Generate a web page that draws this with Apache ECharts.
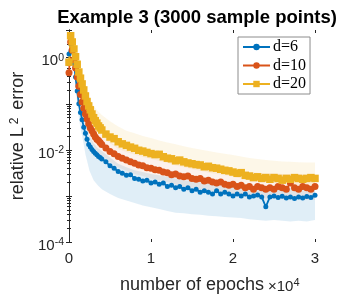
<!DOCTYPE html>
<html>
<head>
<meta charset="utf-8">
<script src="https://cdn.jsdelivr.net/npm/echarts@6/dist/echarts.min.js"></script>
<style>
html,body{margin:0;padding:0;background:#fff;}
#chart{width:349px;height:299px;}
</style>
</head>
<body>
<div id="chart"></div>
<script>
const epochs = [0,200,400,600,800,1000,1200,1400,1600,1800,2000,2200,2400,2600,2800,3000,3200,3400,3600,3800,4000,
  4500,5000,5500,6000,6500,7000,7500,8000,8500,9000,9500,10000,10500,11000,11500,12000,12500,13000,13500,14000,14500,
  15000,15500,16000,16500,17000,17500,18000,18500,19000,19500,20000,20500,21000,21500,22000,22500,23000,23500,24000,
  24500,25000,25500,26000,26500,27000,27500,28000,28500,29000,29500,30000];

const errD6 = [1.2,2.0,1.4,0.75,0.38,0.19,0.1,0.065,0.045,0.031,0.023,0.017,0.013,0.0115,0.0102,0.0092,0.0084,0.0078,0.0072,0.0068,0.0063,
  0.0055,0.0045,0.004,0.0034,0.0031,0.0028,0.0029,0.0024,0.0023,0.0021,0.0022,0.0019,0.002,0.0018,0.0019,0.0016,0.0017,0.0015,0.0016,0.0014,0.0015,
  0.0013,0.0014,0.0012,0.0013,0.0012,0.0011,0.0013,0.0011,0.0012,0.0011,0.001,0.0011,0.001,0.0011,0.00095,0.001,0.00105,0.00095,0.00058,
  0.00095,0.001,0.00092,0.00098,0.0009,0.00095,0.00088,0.00095,0.0009,0.00097,0.00092,0.00104];

const errD10 = [0.47,2.2,1.45,0.9,0.6,0.38,0.24,0.16,0.11,0.08,0.06,0.047,0.037,0.03,0.026,0.022,0.019,0.017,0.016,0.0145,0.013,
  0.011,0.0092,0.0082,0.0072,0.0066,0.006,0.0055,0.0051,0.0047,0.0045,0.0041,0.004,0.0037,0.0036,0.0033,0.0032,0.0029,0.003,0.0027,0.0026,0.0027,
  0.0024,0.0023,0.0024,0.0021,0.0022,0.002,0.0019,0.002,0.0018,0.0017,0.0018,0.0016,0.0017,0.0015,0.0016,0.0014,0.0016,0.0015,0.0014,
  0.0015,0.0014,0.0016,0.0015,0.0014,0.0019,0.0015,0.0014,0.0016,0.0015,0.0014,0.0016];

const errD20 = [0.8,3.0,2.2,1.55,1.05,0.72,0.49,0.36,0.27,0.2,0.148,0.112,0.09,0.074,0.06,0.05,0.043,0.038,0.033,0.03,0.027,
  0.022,0.019,0.0175,0.015,0.0135,0.0125,0.0115,0.0108,0.0098,0.0094,0.0088,0.0083,0.0079,0.008,0.0071,0.0066,0.0064,0.0058,0.006,0.0055,0.0052,
  0.005,0.0048,0.0047,0.0043,0.0044,0.0041,0.004,0.0038,0.0036,0.0035,0.0033,0.0031,0.0032,0.0028,0.0027,0.0025,0.0026,0.0024,0.0025,
  0.0023,0.0025,0.0024,0.0022,0.0024,0.0023,0.0025,0.0024,0.0023,0.0024,0.0025,0.0024];

const bandEpochs = [0,200,400,600,800,1000,1200,1400,1600,1800,2000,2500,3000,3500,4000,
  5000,6000,7000,8000,9000,10000,11000,12000,13000,14000,15000,16000,17000,18000,19000,20000,
  21000,22000,23000,24000,25000,26000,27000,28000,29000,30000];

const lowD6 = [0.9,1.5,1.0,0.5,0.25,0.1,0.05,0.03,0.02,0.013,0.008,0.0035,0.0022,0.0017,0.0014,
  0.0011,0.0009,0.0008,0.0007,0.00062,0.00057,0.00052,0.00047,0.00043,0.00042,0.0004,0.00039,0.00037,0.00036,0.00035,0.00034,
  0.00033,0.00031,0.0003,0.00029,0.0003,0.00029,0.00028,0.00029,0.00028,0.0003];
const highD6 = [1.5,2.6,1.8,1.0,0.5,0.27,0.15,0.1,0.07,0.05,0.036,0.02,0.014,0.011,0.0095,
  0.0068,0.005,0.0042,0.0036,0.0033,0.003,0.0028,0.0026,0.0024,0.0022,0.0021,0.002,0.0019,0.0019,0.0018,0.0017,
  0.0017,0.0016,0.0016,0.0016,0.0015,0.0015,0.0015,0.0015,0.0015,0.0015];

const lowD10 = [0.35,1.6,1.0,0.6,0.38,0.23,0.14,0.09,0.06,0.045,0.034,0.018,0.012,0.009,0.0075,
  0.0055,0.0042,0.0035,0.003,0.0027,0.0024,0.0022,0.002,0.0018,0.0016,0.0015,0.0014,0.0013,0.0012,0.0011,0.00105,
  0.001,0.00095,0.0009,0.00088,0.00086,0.00085,0.00084,0.00083,0.00082,0.00082];
const highD10 = [0.6,2.8,1.8,1.15,0.78,0.5,0.33,0.22,0.15,0.11,0.085,0.048,0.033,0.026,0.021,
  0.015,0.0115,0.0097,0.0085,0.0076,0.007,0.0063,0.0058,0.0054,0.005,0.0047,0.0044,0.0041,0.0039,0.0037,0.0035,
  0.0034,0.0033,0.0032,0.0031,0.0031,0.003,0.003,0.003,0.0029,0.0029];

const lowD20 = [0.6,2.4,1.7,1.2,0.8,0.55,0.37,0.27,0.2,0.15,0.11,0.06,0.036,0.026,0.02,
  0.014,0.0105,0.009,0.0078,0.007,0.0063,0.0057,0.0052,0.0046,0.0042,0.0038,0.0035,0.0032,0.003,0.0028,0.0026,
  0.0024,0.0022,0.0021,0.002,0.0019,0.0018,0.0018,0.0017,0.0017,0.0017];
const highD20 = [1.0,3.8,2.9,2.1,1.45,1.0,0.7,0.52,0.4,0.3,0.23,0.14,0.09,0.07,0.057,
  0.042,0.032,0.026,0.023,0.02,0.018,0.016,0.0145,0.0132,0.012,0.011,0.0102,0.0094,0.0088,0.0082,0.0077,
  0.0072,0.0067,0.0063,0.006,0.0058,0.0056,0.0055,0.0054,0.0053,0.0053];

const xTickLabels = ['0','1','2','3'];
const seriesNames = ['d=6','d=10','d=20'];
const colors = ['#0072BD','#D95319','#EDB120'];
const bandColors = ['rgba(0,114,189,0.12)','rgba(217,83,25,0.08)','rgba(237,177,32,0.10)'];

const FONT = '"Liberation Sans", Arial, Helvetica, sans-serif';
const TXT = '#262626';

function pairs(xs, ys){ return xs.map((x,i)=>[x, ys[i]]); }

function bandSeries(lo, hi, color){
  return {
    type:'custom', silent:true, clip:true, z:1,
    data:[[bandEpochs[0], lo[0]]],
    renderItem:function(params, api){
      const pts=[];
      for(let i=0;i<bandEpochs.length;i++) pts.push(api.coord([bandEpochs[i], hi[i]]));
      for(let i=bandEpochs.length-1;i>=0;i--) pts.push(api.coord([bandEpochs[i], lo[i]]));
      return {type:'polygon', shape:{points:pts}, style:{fill:color, stroke:null}};
    }
  };
}

function lineSeries(name, ys, color, symbol, size){
  return {
    name:name, type:'line', data:pairs(epochs, ys), z:3,
    symbol:symbol, symbolSize:size, showSymbol:true, showAllSymbol:true,
    lineStyle:{color:color, width:1.8}, itemStyle:{color:color, borderWidth:0},
    emphasis:{disabled:true}
  };
}

function yLabel(v){
  const l = Math.log10(v);
  const e = Math.round(l);
  if (Math.abs(l-e) > 1e-6 || e % 2 !== 0) return '';
  return '{b|10}{s|' + e + '}';
}

const chart = echarts.init(document.getElementById('chart'), null, {renderer:'canvas'});
chart.setOption({
  animation:false,
  backgroundColor:'#fff',
  title:{
    text:'Example 3 (3000 sample points)', left:192, top:3, textAlign:'center',
    textStyle:{fontFamily:FONT, fontWeight:'bold', fontSize:18.5, color:'#000'}
  },
  grid:{left:69, right:34, top:30, bottom:57, containLabel:false, outerBoundsMode:'none'},
  legend:{
    data:seriesNames, orient:'vertical', left:238, top:37,
    backgroundColor:'#fff', borderColor:'#8c8c8c', borderWidth:1,
    padding:[1,4,1,4], itemGap:0.5, itemWidth:27, itemHeight:8,
    textStyle:{fontFamily:'"Liberation Serif", "DejaVu Serif", serif', fontSize:16, lineHeight:18, color:'#000', padding:[0,0,0,-2]}
  },
  xAxis:[{
    type:'value', min:0, max:30000, interval:10000, position:'bottom',
    axisLine:{show:false}, splitLine:{show:false},
    axisTick:{show:true, inside:true, length:3, lineStyle:{color:TXT}},
    axisLabel:{fontFamily:FONT, fontSize:15, color:TXT, margin:9,
      formatter:function(v){ return xTickLabels[Math.round(v/10000)]; }},
    name:'number of epochs', nameLocation:'middle', nameGap:34,
    nameTextStyle:{fontFamily:FONT, fontSize:18, color:TXT}
  },{
    type:'value', min:0, max:30000, interval:10000, position:'top',
    axisLine:{show:false}, splitLine:{show:false},
    axisTick:{show:true, inside:true, length:3, lineStyle:{color:TXT}},
    axisLabel:{show:false}
  }],
  yAxis:[{
    type:'log', logBase:10, min:1e-4, max:4, position:'left',
    axisLine:{show:true, lineStyle:{color:TXT, width:1}},
    axisTick:{show:true, inside:true, length:3, lineStyle:{color:TXT}},
    minorTick:{show:true, splitNumber:9, length:2, lineStyle:{color:TXT}},
    splitLine:{show:false},
    axisLabel:{margin:5, formatter:yLabel,
      rich:{b:{fontFamily:FONT, fontSize:15, color:TXT, lineHeight:18, padding:[7,0,0,0]},
            s:{fontFamily:FONT, fontSize:10.5, color:TXT, lineHeight:18}}},
    name:'{n|relative L}{s|2}{n| error}', nameLocation:'middle', nameGap:33, nameRotate:90,
    nameTextStyle:{rich:{n:{fontFamily:FONT, fontSize:18, color:TXT, lineHeight:22, padding:[7,0,0,0]},
                         s:{fontFamily:FONT, fontSize:12, color:TXT, lineHeight:22, padding:[0,3,0,3]}}}
  },{
    type:'log', logBase:10, min:1e-4, max:4, position:'right',
    axisLine:{show:true, lineStyle:{color:TXT, width:1}},
    axisTick:{show:true, inside:true, length:3, lineStyle:{color:TXT}},
    minorTick:{show:true, splitNumber:9, length:2, lineStyle:{color:TXT}},
    splitLine:{show:false}, axisLabel:{show:false}
  }],
  graphic:[{
    type:'text', left:268, top:271,
    style:{text:'{a|×10}{s|4}', rich:{a:{fontFamily:FONT, fontSize:15, fill:TXT, lineHeight:18, padding:[8,0,0,0]},
      s:{fontFamily:FONT, fontSize:11, fill:TXT, lineHeight:18}}}
  }],
  series:[
    bandSeries(lowD6, highD6, bandColors[0]),
    bandSeries(lowD10, highD10, bandColors[1]),
    bandSeries(lowD20, highD20, bandColors[2]),
    lineSeries(seriesNames[0], errD6, colors[0], 'circle', 5),
    lineSeries(seriesNames[1], errD10, colors[1], 'circle', 7),
    lineSeries(seriesNames[2], errD20, colors[2], 'rect', 7.5)
  ]
});
</script>
</body>
</html>
